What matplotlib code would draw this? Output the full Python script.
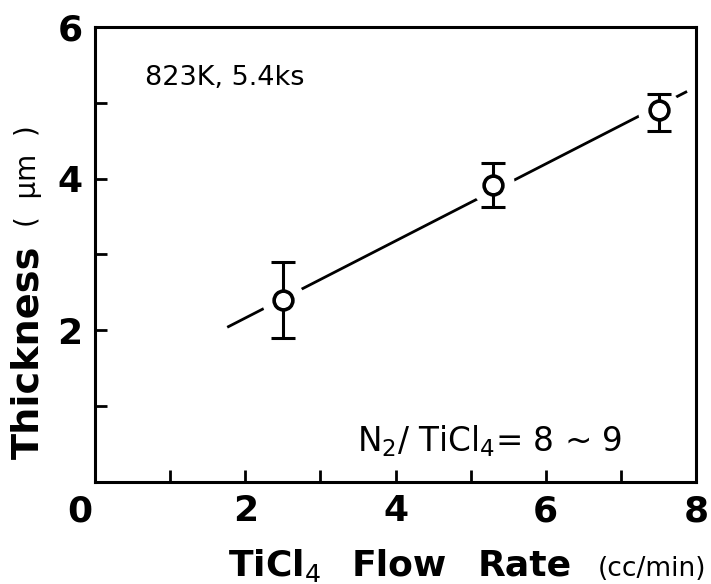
import matplotlib
matplotlib.use("Agg")
import matplotlib.pyplot as plt
import matplotlib.transforms as mtransforms

# Measured film thickness vs. TiCl4 flow rate
flow_rate = [2.5, 5.3, 7.5]            # cc/min
thickness = [2.40, 3.92, 4.90]         # um
err_low = [0.50, 0.29, 0.27]
err_high = [0.50, 0.29, 0.22]

# Straight-line fit drawn through the data
fit_x = [1.76, 7.88]
fit_y = [2.04, 5.15]

x_ticks = [0, 1, 2, 3, 4, 5, 6, 7, 8]
x_ticklabels = ["0", "", "2", "", "4", "", "6", "", "8"]
y_ticks = [1, 2, 3, 4, 5, 6]
y_ticklabels = ["", "2", "", "4", "", "6"]

plt.rcParams["font.family"] = ["DejaVu Sans"]
plt.rcParams["mathtext.fontset"] = "dejavusans"

fig = plt.figure(figsize=(7.11, 5.84), dpi=100)
ax = fig.add_axes([0.1336, 0.1747, 0.9790 - 0.1336, 0.9538 - 0.1747])

ax.set_xlim(0, 8)
ax.set_ylim(0, 6)

# fit line, interrupted around each symbol
ax.plot(fit_x, fit_y, color="black", lw=2.0, solid_capstyle="butt", zorder=1)
ax.plot(flow_rate, thickness, linestyle="none", marker="o", markersize=31,
        markerfacecolor="white", markeredgewidth=0, zorder=2)

ax.errorbar(flow_rate, thickness, yerr=[err_low, err_high], fmt="none",
            ecolor="black", elinewidth=2.2, capsize=8.3, capthick=2.2, zorder=3)
ax.plot(flow_rate, thickness, linestyle="none", marker="o", markersize=13.5,
        markerfacecolor="white", markeredgecolor="black", markeredgewidth=2.6,
        zorder=4)

for s in ax.spines.values():
    s.set_linewidth(2.2)

ax.set_xticks(x_ticks)
ax.set_xticklabels(x_ticklabels)
ax.set_yticks(y_ticks)
ax.set_yticklabels(y_ticklabels)
ax.tick_params(axis="both", direction="in", length=8.5, width=2.0,
               labelsize=26)
ax.tick_params(axis="x", pad=9)
ax.tick_params(axis="y", pad=9)
for lab in ax.get_xticklabels() + ax.get_yticklabels():
    lab.set_fontweight("bold")

# nudge the origin label left, clear of the y axis
first = ax.get_xticklabels()[0]
first.set_transform(first.get_transform() +
                    mtransforms.ScaledTranslation(-0.15, 0, fig.dpi_scale_trans))

ax.text(0.67, 5.24, "823K, 5.4ks", fontsize=19.5, ha="left", va="baseline")
ax.text(3.49, 0.40, "N$_2$/ TiCl$_4$= 8 ~ 9", fontsize=23.5, ha="left",
        va="baseline")

# x axis title, word by word for the wide spacing
base = 1 - 576 / 584
fig.text(228 / 711, base, "TiCl$_4$", fontsize=26, ha="left", va="baseline",
         fontweight="bold")
fig.text(352 / 711, base, "Flow", fontsize=26, ha="left", va="baseline",
         fontweight="bold")
fig.text(478 / 711, base, "Rate", fontsize=26, ha="left", va="baseline",
         fontweight="bold")
fig.text(598 / 711, base, "(cc/min)", fontsize=19, ha="left", va="baseline")

# y axis title
fig.text(28 / 711, 1 - 352 / 584, "Thickness", fontsize=27.5, rotation=90,
         ha="center", va="center", fontweight="bold")
fig.text(28 / 711, 1 - 176 / 584, "(  µm  )", fontsize=20, rotation=90,
         ha="center", va="center")

fig.savefig("out.png", dpi=100)
